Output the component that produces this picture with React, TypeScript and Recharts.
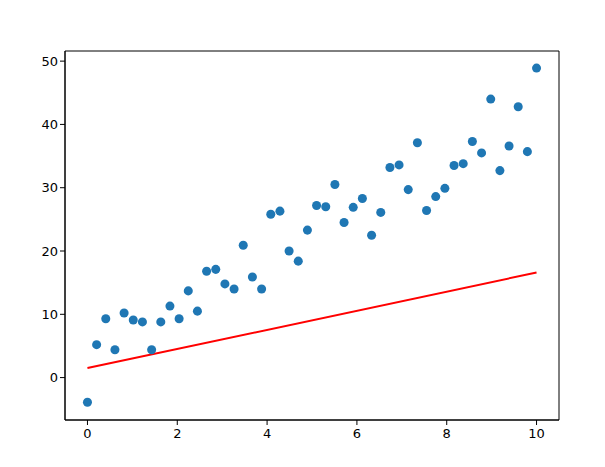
import {
  ComposedChart,
  Scatter,
  Line,
  XAxis,
  YAxis,
  ZAxis,
  ReferenceArea,
} from "recharts";

const xValues = [
  0, 0.204, 0.408, 0.612, 0.816, 1.02, 1.224, 1.429, 1.633, 1.837,
  2.041, 2.245, 2.449, 2.653, 2.857, 3.061, 3.265, 3.469, 3.673, 3.878,
  4.082, 4.286, 4.49, 4.694, 4.898, 5.102, 5.306, 5.51, 5.714, 5.918,
  6.122, 6.327, 6.531, 6.735, 6.939, 7.143, 7.347, 7.551, 7.755, 7.959,
  8.163, 8.367, 8.571, 8.776, 8.98, 9.184, 9.388, 9.592, 9.796, 10,
];

const yValues = [
  -3.9, 5.2, 9.3, 4.4, 10.2, 9.1, 8.8, 4.4, 8.8, 11.3,
  9.3, 13.7, 10.5, 16.8, 17.1, 14.8, 14.0, 20.9, 15.9, 14.0,
  25.8, 26.3, 20.0, 18.4, 23.3, 27.2, 27.0, 30.5, 24.5, 26.9,
  28.3, 22.5, 26.1, 33.2, 33.6, 29.7, 37.1, 26.4, 28.6, 29.9,
  33.5, 33.8, 37.3, 35.5, 44.0, 32.7, 36.6, 42.8, 35.7, 48.9,
];

const lineX = [0, 10];
const lineY = [1.5, 16.6];

const xTicks = [0, 2, 4, 6, 8, 10];
const yTicks = [0, 10, 20, 30, 40, 50];

const points = xValues.map((x, i) => ({ x, y: yValues[i] }));
const fitLine = lineX.map((x, i) => ({ x, y: lineY[i] }));

const tickStyle = { fill: "#000", fontSize: 13, fontFamily: "DejaVu Sans" };

export default function App() {
  return (
    <div style={{ position: "absolute", left: 0, top: 0, width: 605, height: 467, background: "#fff" }}>
      <ComposedChart
        width={605}
        height={467}
        margin={{ top: 51, right: 46, bottom: 17, left: 25 }}
      >
        <XAxis
          dataKey="x"
          type="number"
          domain={[-0.5, 10.5]}
          ticks={xTicks}
          allowDataOverflow
          height={30}
          stroke="#000"
          tick={{ ...tickStyle, dy: 2 }}
          tickSize={5}
        />
        <YAxis
          dataKey="y"
          type="number"
          domain={[-6.7, 51.6]}
          ticks={yTicks}
          allowDataOverflow
          width={40}
          stroke="#000"
          tick={tickStyle}
          tickSize={5}
        />
        <ZAxis range={[64, 64]} />
        <ReferenceArea
          x1={-0.5}
          x2={10.5}
          y1={-6.7}
          y2={51.6}
          fill="none"
          stroke="#000"
          strokeWidth={1}
          fillOpacity={0}
        />
        <Scatter data={points} dataKey="y" fill="#1f77b4" isAnimationActive={false} />
        <Line
          data={fitLine}
          dataKey="y"
          stroke="#ff0000"
          strokeWidth={2}
          dot={false}
          type="linear"
          isAnimationActive={false}
        />
      </ComposedChart>
    </div>
  );
}
